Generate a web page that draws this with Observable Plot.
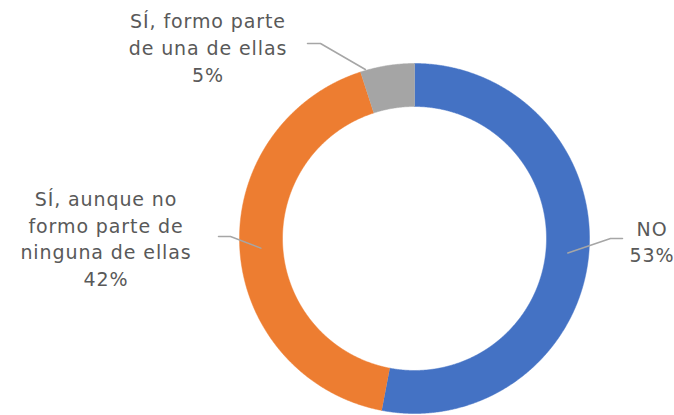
<!DOCTYPE html>
<html><head><meta charset="utf-8">
<script src="https://cdn.jsdelivr.net/npm/d3@7"></script>
<script src="https://cdn.jsdelivr.net/npm/@observablehq/plot@0.6"></script>
<style>html,body{margin:0;padding:0;background:#fff} #chart svg{display:block} #chart svg text{letter-spacing:0.9px}</style>
</head><body><div id="chart"></div>
<script>
// ---- data ----
const categories = ["NO", "SÍ, aunque no formo parte de ninguna de ellas", "SÍ, formo parte de una de ellas"];
const values = [53, 42, 5];
const labelText = ["NO", "SÍ, aunque no\nformo parte de\nninguna de ellas", "SÍ, formo parte\nde una de ellas"];
const colors = ["#4472c4", "#ed7d31", "#a5a5a5"];

// ---- layout (pixels relative to donut centre) ----
const W = 674, H = 415, CX = 414, CY = 238, R_OUT = 175, R_IN = 132;
const layout = [
  {lx: 237, ly: 2, t: 0.5, r: 154, elbow: [196, 0], end: [208, 0]},
  {lx: -309, ly: -1, t: 0.5, r: 154, elbow: [-184, -2], end: [-196, -2]},
  {lx: -207, ly: -192, t: 0.1, r: 176, elbow: [-94, -195], end: [-107, -195]}
];

const total = d3.sum(values);
let acc = 0;
const slices = values.map((v, i) => {
  const a0 = acc / total * 2 * Math.PI;
  acc += v;
  const a1 = acc / total * 2 * Math.PI;
  return {cat: categories[i], value: v, a0, a1};
});
const pt = (a, r) => [r * Math.sin(a), -r * Math.cos(a)];

const ring = [];
for (const s of slices) {
  const n = Math.max(2, Math.ceil((s.a1 - s.a0) / 0.005));
  for (let k = 0; k <= n; k++) {
    const [x, y] = pt(s.a0 + (s.a1 - s.a0) * k / n, R_OUT);
    ring.push({cat: s.cat, x, y});
  }
  for (let k = n; k >= 0; k--) {
    const [x, y] = pt(s.a0 + (s.a1 - s.a0) * k / n, R_IN);
    ring.push({cat: s.cat, x, y});
  }
}

const leaders = [];
slices.forEach((s, i) => {
  const L = layout[i];
  const [x, y] = pt(s.a0 + (s.a1 - s.a0) * L.t, L.r);
  leaders.push({cat: s.cat, x, y});
  leaders.push({cat: s.cat, x: L.elbow[0], y: L.elbow[1]});
  leaders.push({cat: s.cat, x: L.end[0], y: L.end[1]});
});

const labels = slices.map((s, i) => ({
  cat: s.cat,
  x: layout[i].lx, y: layout[i].ly,
  text: labelText[i] + "\n" + s.value + "%"
}));

const chart = Plot.plot({
  width: W, height: H,
  margin: 0,
  x: {domain: [-CX, W - CX], range: [0, W], axis: null},
  y: {domain: [-CY, H - CY], range: [0, H], axis: null},
  color: {domain: categories, range: colors},
  style: {fontFamily: "'DejaVu Sans', sans-serif", background: "#fff"},
  marks: [
    Plot.line(ring, {x: "x", y: "y", z: "cat", fill: "cat", stroke: "cat", strokeWidth: 0.5}),
    Plot.line(leaders, {x: "x", y: "y", z: "cat", stroke: "#a6a6a6", strokeWidth: 1.5}),
    Plot.text(labels, {x: "x", y: "y", text: "text", fill: "#595959", fontSize: 19, lineHeight: 1.4, textAnchor: "middle", lineAnchor: "middle", dx: 0.5})
  ]
});
document.getElementById("chart").appendChild(chart);
</script>
</body></html>
